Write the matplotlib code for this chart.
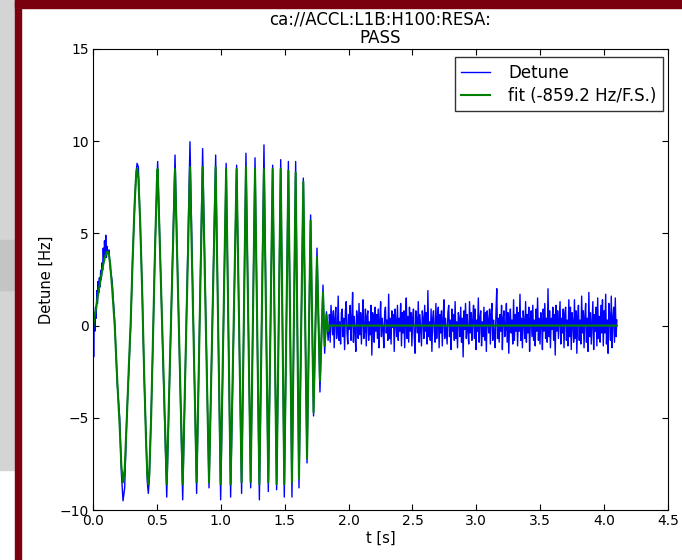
import numpy as np
import matplotlib
matplotlib.use("Agg")
import matplotlib.pyplot as plt
from matplotlib.patches import Rectangle

# sweep section: shared time points, fitted model and measured detune
chirp_t = [0.000, 0.005, 0.010, 0.015, 0.020, 0.025, 0.030, 0.035, 0.040, 0.045,
           0.050, 0.055, 0.060, 0.065, 0.070, 0.075, 0.080, 0.085, 0.090, 0.095,
           0.100, 0.105, 0.110, 0.117, 0.125, 0.135, 0.150, 0.170, 0.190, 0.209,
           0.222, 0.235, 0.248, 0.265, 0.280, 0.295, 0.310, 0.325, 0.337, 0.345,
           0.355, 0.370, 0.385, 0.400, 0.415, 0.425, 0.433, 0.440, 0.455, 0.470,
           0.485, 0.500, 0.506, 0.577, 0.642, 0.702, 0.759, 0.811, 0.858, 0.908,
           0.960, 0.999, 1.042, 1.077, 1.124, 1.163, 1.197, 1.234, 1.268, 1.302,
           1.338, 1.372, 1.406, 1.437, 1.469, 1.497, 1.529, 1.557, 1.586, 1.612,
           1.646, 1.675, 1.703, 1.726, 1.753, 1.776, 1.800, 1.813, 1.827, 1.840,
           1.850]
fit_v = [-0.2, 0.1, 0.4, 0.6, 0.8, 1.0, 1.2, 1.5, 1.7, 1.9,
         2.1, 2.3, 2.5, 2.7, 2.9, 3.1, 3.3, 3.45, 3.6, 3.75,
         3.85, 3.95, 4.0, 4.0, 3.8, 3.3, 2.0, 0.0, -3.0, -5.5,
         -7.6, -8.5, -7.8, -5.0, -2.3, 0.2, 3.5, 6.5, 8.1, 8.5,
         8.0, 5.5, 1.8, -2.5, -6.2, -8.1, -8.6, -8.2, -5.0, -0.5,
         4.0, 7.8, 8.5, -8.6, 8.5, -8.6, 8.6, -8.5, 8.6, -8.5,
         8.6, -8.6, 8.5, -8.6, 8.5, -8.5, 8.6, -8.5, 8.5, -8.6,
         8.5, -8.5, 8.5, -8.6, 8.5, -8.6, 8.4, -8.5, 8.3, -8.3,
         7.8, -7.2, 5.7, -4.7, 3.7, -3.0, 1.8, -1.1, 0.6, -0.3,
         0.0]
detune_v = [0.8, -1.7, 0.5, -0.3, 1.0, 0.4, 1.9, 1.2, 2.4, 1.8,
            2.6, 2.1, 3.0, 2.5, 3.4, 3.0, 4.2, 3.5, 4.6, 3.8,
            4.9, 3.7, 4.3, 3.9, 4.1, 3.1, 2.4, 0.2, -3.2, -5.0,
            -8.0, -9.5, -8.8, -4.8, -2.5, 0.0, 3.7, 6.3, 8.3, 8.8,
            8.6, 5.3, 2.0, -2.8, -6.0, -8.5, -9.1, -8.4, -4.8, -0.7,
            4.2, 7.6, 8.9, -9.3, 9.25, -9.45, 9.97, -9.1, 9.6, -8.8,
            9.25, -9.45, 8.8, -9.3, 8.7, -9.1, 9.35, -8.8, 9.1, -9.45,
            9.8, -9.0, 8.7, -8.9, 9.0, -9.3, 8.9, -9.3, 8.9, -8.8,
            8.0, -7.45, 6.0, -4.9, 4.2, -3.6, 2.2, -1.5, 0.75, -0.8,
            0.3]

# after the sweep: residual detune, evenly sampled from 1.85 s to 4.1 s
tail_start = 1.85
tail_end = 4.1
tail_v = [
    0.6, -0.9, 1.1, 0.3, -0.5, 0.8, -1.2, 0.4, 1.0, -0.7, -0.3, 1.6, -0.8, 0.2, -1.0, 0.7, 0.9, -0.6, 0.4, -1.3,
    0.8, 1.3, -0.4, -1.0, 0.6, -0.2, 1.1, -0.8, 0.3, 1.8, -0.9, 0.5, -0.3, -1.4, 0.8, 0.4, -0.7, 1.2, -0.5, 0.7,
    -1.0, 0.3, 1.4, -0.7, -0.3, 0.9, -1.1, 0.5, 0.8, -0.8, 0.2, -0.5, 1.1, -1.6, 0.7, 0.4, -0.9, 1.0, -0.3, 0.6,
    -0.7, 0.9, -1.2, 0.3, 1.3, -0.6, 0.4, -0.2, -1.2, 0.7, 1.0, -0.4, 0.3, -0.8, 1.7, -0.7, 0.4, -1.0, 0.8, -0.1,
    0.6, -1.4, 0.9, 0.2, -0.6, 1.1, -0.8, 0.4, -0.3, 1.2, -1.1, 0.7, -0.4, 0.8, -1.2, 0.3, 1.5, -0.7, 0.5, -0.9,
    1.0, -0.3, 0.7, -1.1, 0.4, 0.9, -0.6, -1.5, 0.8, 0.3, -0.4, 1.3, -0.9, 0.6, -0.2, -1.1, 0.8, 0.4, -0.7, 1.1,
    -0.3, 0.7, -1.0, 1.9, -0.6, 0.2, -0.8, 0.9, -1.4, 0.4, 0.8, -0.3, -0.9, 1.2, -0.7, 0.4, 1.0, -1.2, 0.6, -0.4,
    0.8, -1.1, 0.3, 1.4, -0.7, 0.4, -0.3, -1.0, 0.7, 1.1, -0.6, 0.3, -1.3, 0.9, -0.3, 0.6, -0.8, 1.3, -0.7, 0.2,
    -1.2, 0.7, 0.4, -0.6, 1.0, -0.9, 0.4, -1.7, 0.8, -0.2, 1.2, -0.7, 0.6, -0.3, -1.0, 1.3, -0.4, 0.7, -0.8, 0.3,
    1.1, -0.7, 0.9, -1.3, 0.3, -0.3, 1.5, -0.9, 0.4, 0.8, -1.1, 0.2, -0.6, 1.0, -0.8, 0.7, -1.4, 0.8, 0.3, -0.4,
    0.9, -1.0, 0.6, 1.2, -0.8, 0.3, -0.4, -1.2, 0.7, 2.0, -0.7, 0.4, -0.9, 0.6, -0.3, 1.1, -1.3, 0.4, 0.8, -0.6,
    -0.2, 1.2, -0.9, 0.7, -1.5, 0.3, 0.9, -0.4, 0.3, -1.0, 1.4, -0.8, 0.6, -0.3, 1.0, -1.1, 0.7, -0.3, 1.7, -0.8,
    0.4, -1.2, 0.8, 0.2, -0.7, 1.3, -0.9, 0.6, -0.4, 1.0, -1.4, 0.3, 0.8, -0.6, 1.1, -0.8, 0.3, -1.1, 0.9, -0.3,
    1.5, -0.8, 0.4, -1.0, 0.7, 0.3, -1.3, 0.9, -0.3, 1.2, -0.7, 0.4, -0.9, 2.0, -0.6, 0.8, -1.2, 0.4, -0.2, 1.0,
    -0.8, 0.6, -1.6, 1.1, -0.3, 0.8, -0.7, 0.3, 1.3, -1.0, 0.4, -0.4, 0.9, -1.2, 0.7, 1.0, -0.8, 0.3, -1.1, 1.4,
    -0.6, 1.0, -1.3, 0.7, 0.2, -0.9, 1.4, -0.7, 0.8, -1.5, 0.4, 1.1, -0.8, 0.3, -1.0, 1.6, -0.4, 0.8, -1.2, 0.5,
    1.2, -0.9, 0.4, -1.4, 1.8, -0.6, 0.7, -1.0, 0.2, 1.3, -1.3, 0.6, -0.3, 1.0, -1.1, 1.5, -0.7, 0.5, -0.9, 1.1,
    -0.4, 1.4, -1.1, 0.8, -0.4, 1.7, -1.0, 0.3, -1.5, 1.2, 0.5, -0.8, 1.6, -1.2, 0.4, 1.0, -0.9, 1.5, -0.6, 0.3,
]
fit_tail_t = [1.85, 4.1]
fit_tail_v = [0.0, 0.0]

fit_slope = -859.2
title = "ca://ACCL:L1B:H100:RESA:\nPASS"

tail_t = np.linspace(tail_start, tail_end, len(tail_v))
t_detune = np.concatenate([chirp_t, tail_t])
v_detune = np.concatenate([detune_v, tail_v])
t_fit = np.concatenate([chirp_t, fit_tail_t])
v_fit = np.concatenate([fit_v, fit_tail_v])

plt.rcParams['font.family'] = ['DejaVu Sans']
plt.rcParams['font.size'] = 10

fig = plt.figure(figsize=(6.82, 5.60), dpi=100)
fig.patch.set_facecolor('white')

# window chrome around the canvas
W, H = 682.0, 560.0
def px_rect(x0, y0, x1, y1, color):
    fig.patches.append(Rectangle((x0 / W, 1 - y1 / H), (x1 - x0) / W, (y1 - y0) / H,
                                 transform=fig.transFigure, color=color, zorder=0))
px_rect(0, 0, 15, 470, '#d4d4d4')
px_rect(0, 240, 15, 290, '#c4c4c4')
px_rect(15, 0, 682, 8, '#7a0010')
px_rect(15, 0, 21, 560, '#7a0010')

ax = fig.add_axes([93 / W, 1 - 510 / H, (668 - 93) / W, (510 - 49) / H])
ax.plot(t_detune, v_detune, color='#0000ff', lw=1.0, label='Detune')
ax.plot(t_fit, v_fit, color='#008000', lw=1.5, label='fit (%.1f Hz/F.S.)' % fit_slope)

ax.set_xlim(0, 4.5)
ax.set_ylim(-10, 15)
ax.set_xticks(np.arange(0, 4.51, 0.5))
ax.set_yticks([-10, -5, 0, 5, 10, 15])
ax.xaxis.set_major_formatter(matplotlib.ticker.FormatStrFormatter('%.1f'))
ax.tick_params(direction='in', top=True, right=True, length=4, width=0.8, pad=3)
ax.set_xlabel('t [s]', fontsize=10.5, labelpad=2)
ax.set_ylabel('Detune [Hz]', fontsize=10.5)
ax.set_title(title, fontsize=12, pad=4, linespacing=1.1)
leg = ax.legend(loc='upper right', bbox_to_anchor=(663 / W, 1 - 57 / H),
                bbox_transform=fig.transFigure, borderaxespad=0,
                fontsize=12, fancybox=False, handlelength=1.7,
                handletextpad=1.1, labelspacing=0.3, borderpad=0.4)
leg.get_frame().set_edgecolor('black')

fig.savefig('out.png', dpi=100)
